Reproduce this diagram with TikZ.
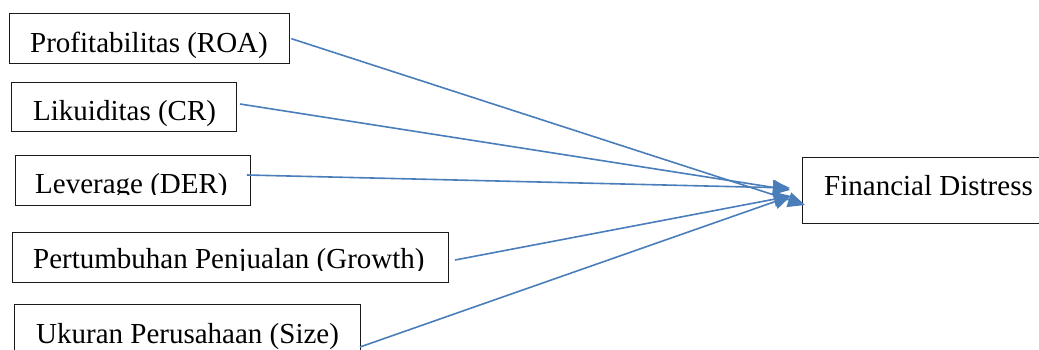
\documentclass[tikz,border=0pt]{standalone}
\usepackage{fontspec}
\setmainfont{Liberation Serif}
\usetikzlibrary{arrows.meta,calc}
\definecolor{arrowblue}{HTML}{4A7EBB}
\definecolor{boxline}{HTML}{1A1A1A}
\tikzset{
  box/.style={draw=boxline, line width=1.3pt, fill=white, rectangle, inner sep=0pt, anchor=north west},
  lbl/.style={anchor=base west, inner sep=0pt, font=\fontsize{29}{34}\selectfont},
  link/.style={draw=arrowblue, line width=1.6pt, -{Triangle[length=17pt,width=15pt]}}
}
\begin{document}
\begin{tikzpicture}[x=1pt,y=-1pt]
\useasboundingbox (0,0) rectangle (1039,349);
\clip (0,0) rectangle (1039,349);
% boxes
\node[box, minimum width=280pt, minimum height=50pt] (b1) at (9,13) {};
\node[box, minimum width=225pt, minimum height=49pt] (b2) at (11,82) {};
\node[box, minimum width=235pt, minimum height=50pt] (b3) at (15,155) {};
\node[box, minimum width=436pt, minimum height=50pt] (b4) at (12,232) {};
\node[box, minimum width=346pt, minimum height=60pt] (b5) at (14,304) {};
\node[box, minimum width=260pt, minimum height=66pt] (fd) at (802,157) {};
% labels
\node[lbl] (t1) at (30,52) {Profitabilitas (ROA)};
\node[lbl] (t2) at (33,120) {Likuiditas (CR)};
\begin{scope}
\clip (15,155) rectangle (250,194);
\node[lbl] (t3) at (35,193) {Leverage (DER)};
\end{scope}
\begin{scope}
\clip (12,232) rectangle (448,270);
\node[lbl] (t4) at (33,268) {Pertumbuhan Penjualan (Growth)};
\end{scope}
\node[lbl] (t5) at (36,343) {Ukuran Perusahaan (Size)};
\node[lbl] (t6) at (824,195) {Financial Distress};
% connector ends
\coordinate (s1) at ($(b1.east)+(1,0)$);
\coordinate (s2) at (240,104);
\coordinate (s3) at (247,175);
\coordinate (s4) at (455,260);
\coordinate (s5) at (360,347);
\coordinate (e1) at (805,205);
\coordinate (e2) at (790,190);
\coordinate (e3) at (790,188);
\coordinate (e4) at (791,196);
\coordinate (e5) at (791,196);
\draw[link] (s1) -- (e1);
\draw[link] (s2) -- (e2);
\draw[link] (s3) -- (e3);
\draw[link] (s4) -- (e4);
\draw[link] (s5) -- (e5);
\end{tikzpicture}
\end{document}
